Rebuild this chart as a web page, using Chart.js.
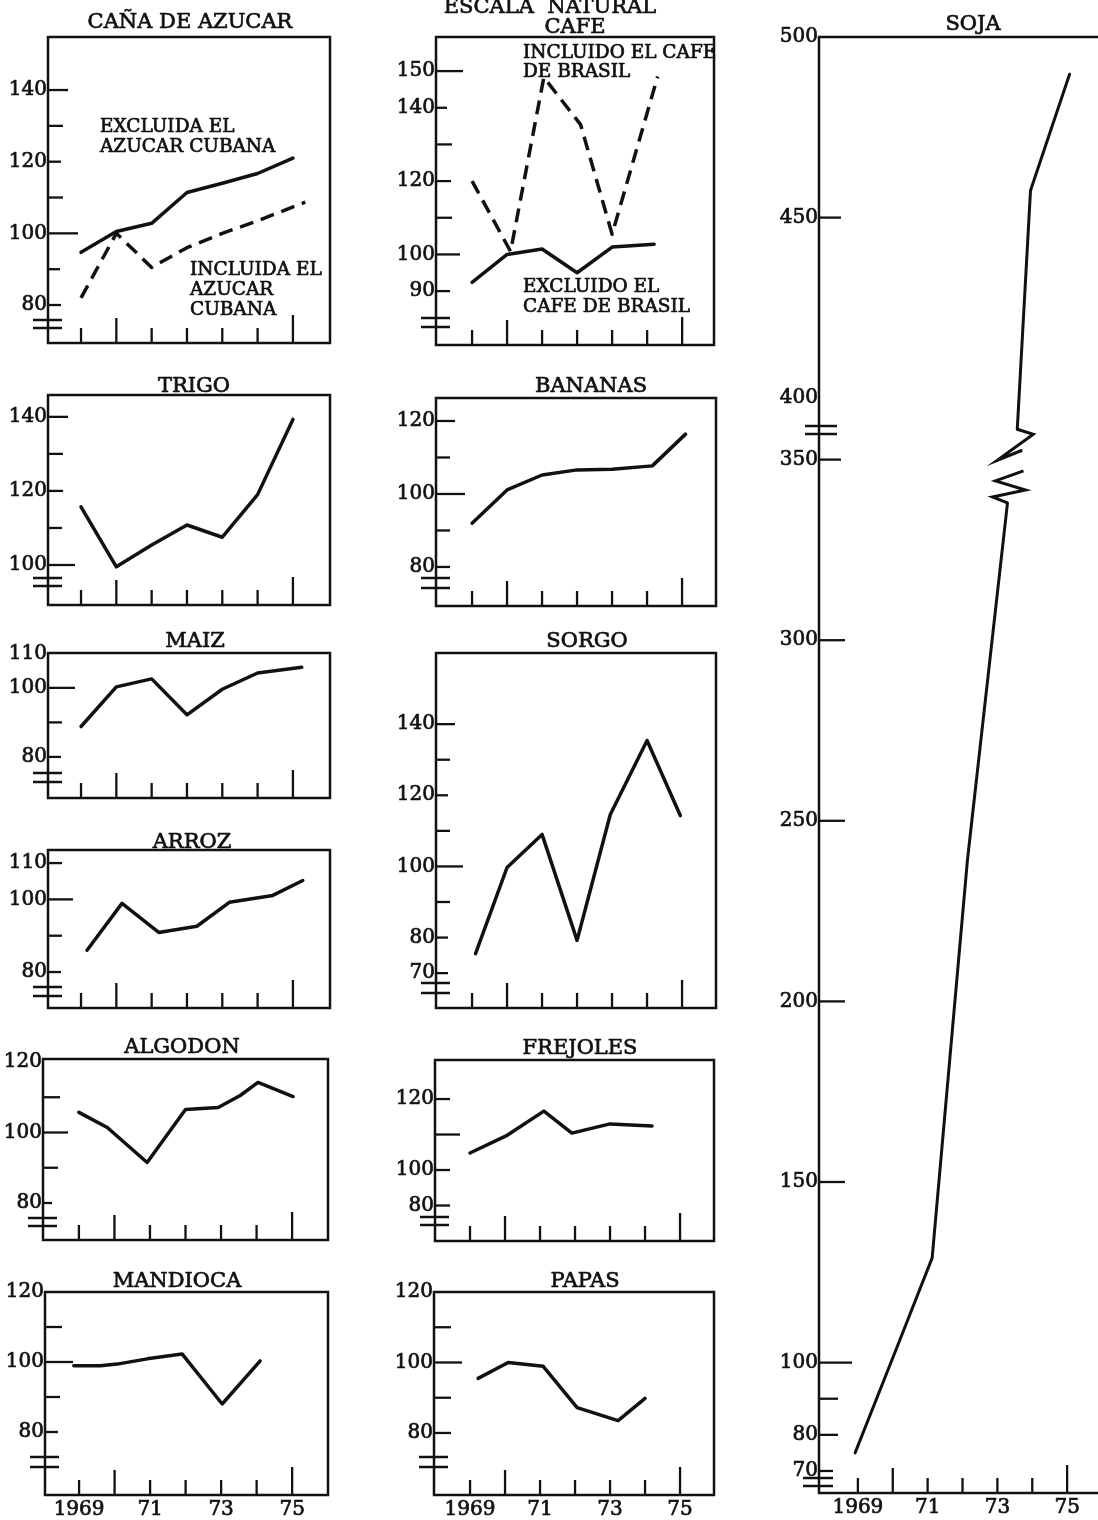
<!DOCTYPE html>
<html>
<head>
<meta charset="utf-8">
<script src="https://cdn.jsdelivr.net/npm/chart.js@4.4.1/dist/chart.umd.min.js"></script>
<style>
html,body{margin:0;padding:0;background:#fff;width:1098px;height:1520px;overflow:hidden;}
#wrap{position:relative;width:1098px;height:1520px;overflow:hidden;background:#fff;}
canvas{position:absolute;}
</style>
</head>
<body>
<div id="wrap"></div>
<script>
// ================= DATA =================
const tickYears = [1969, 1970, 1971, 1972, 1973, 1974, 1975];
const xTickLabels = ['1969', '', '71', '', '73', '', '75'];

// CAÑA DE AZUCAR
const canaExclYears = [1969, 1970, 1971, 1972, 1973, 1974, 1975];
const canaExclValues = [94.7, 100.5, 102.8, 111.4, 114, 116.7, 121];
const canaInclYears = [1969, 1970, 1971, 1972, 1973, 1974, 1975.35];
const canaInclValues = [82, 100, 90.5, 96, 100, 103.5, 108.7];
const canaYTicks = [140, 130, 120, 110, 100, 90, 80];
const canaYLabels = ['140', '', '120', '', '100', '', '80'];

// CAFE
const cafeExclYears = [1969, 1970, 1971, 1972, 1973, 1974.2];
const cafeExclValues = [92.4, 100, 101.5, 95, 102, 102.8];
const cafeInclYears = [1969, 1970.1, 1971.05, 1972.1, 1973, 1974.3];
const cafeInclValues = [120, 100.8, 148.3, 135.4, 105.5, 148.5];
const cafeYTicks = [150, 140, 130, 120, 110, 100, 90];
const cafeYLabels = ['150', '140', '', '120', '', '100', '90'];

// SOJA (values above the axis break are drawn shifted down by the break gap)
const sojaLowerYears = [1968.92, 1970.07, 1971.13, 1972.14, 1973.29];
const sojaLowerValues = [75, 103, 129, 239, 338];
const sojaUpperYears = [1973.57, 1973.95, 1975.07];
const sojaUpperValues = [391.4, 457.5, 489.7];
const sojaBreakGap = 33;
const sojaYTicks = [500, 450, 400, 350, 300, 250, 200, 150, 100, 90, 80, 70];
const sojaYLabels = ['500', '450', '400', '350', '300', '250', '200', '150', '100', '', '80', '70'];

// TRIGO
const trigoYears = [1969, 1970, 1971, 1972, 1973, 1974, 1975];
const trigoValues = [115.7, 99.5, 105.4, 110.8, 107.5, 119, 139.3];
const trigoYTicks = [140, 130, 120, 110, 100];
const trigoYLabels = ['140', '', '120', '', '100'];

// BANANAS
const bananasYears = [1969, 1970, 1971, 1972, 1973, 1974.15, 1975.1];
const bananasValues = [92, 101.1, 105.2, 106.6, 106.8, 107.7, 116.4];
const bananasYTicks = [120, 110, 100, 90, 80];
const bananasYLabels = ['120', '', '100', '', '80'];

// MAIZ
const maizYears = [1969, 1970, 1971, 1972, 1973, 1974, 1975.25];
const maizValues = [88.8, 100.3, 102.6, 92.2, 99.6, 104.3, 106];
const maizYTicks = [110, 100, 90, 80];
const maizYLabels = ['110', '100', '', '80'];

// SORGO
const sorgoYears = [1969.1, 1970, 1971, 1972, 1972.95, 1974, 1974.95];
const sorgoValues = [75.5, 99.7, 109, 79.2, 114.6, 135.4, 114.3];
const sorgoYTicks = [140, 130, 120, 110, 100, 90, 80, 70];
const sorgoYLabels = ['140', '', '120', '', '100', '', '80', '70'];

// ARROZ
const arrozYears = [1969.17, 1970.16, 1971.2, 1972.28, 1973.2, 1974.43, 1975.28];
const arrozValues = [86, 98.9, 90.9, 92.6, 99.2, 101.1, 105.2];
const arrozYTicks = [110, 100, 90, 80];
const arrozYLabels = ['110', '100', '', '80'];

// ALGODON
const algodonYears = [1969, 1969.8, 1970.92, 1972, 1972.92, 1973.54, 1974.04, 1975.03];
const algodonValues = [105.7, 101.4, 91.5, 106.5, 107.1, 110.5, 114.2, 110.2];
const algodonYTicks = [120, 110, 100, 90, 80];
const algodonYLabels = ['120', '', '100', '', '80'];

// FREJOLES
const frejolesYears = [1969, 1970.03, 1971.11, 1971.91, 1973, 1974.2];
const frejolesValues = [104.8, 109.6, 116.6, 110.4, 113, 112.4];
const frejolesYTicks = [120, 110, 100, 90];
const frejolesYLabels = ['120', '', '100', '80'];

// MANDIOCA
const mandiocaYears = [1968.85, 1969.6, 1970.07, 1970.92, 1971.9, 1973.03, 1974.1];
const mandiocaValues = [98.9, 98.9, 99.4, 100.9, 102.3, 88, 100.3];
const mandiocaYTicks = [120, 110, 100, 90, 80];
const mandiocaYLabels = ['120', '', '100', '', '80'];

// PAPAS
const papasYears = [1969.23, 1970.09, 1971.09, 1972.06, 1973.23, 1974];
const papasValues = [95.5, 100, 98.9, 87.2, 83.5, 89.8];
const papasYTicks = [120, 110, 100, 90, 80];
const papasYLabels = ['120', '', '100', '', '80'];

// ================= STYLE / LAYOUT =================
const FONT = "'DejaVu Serif', 'Liberation Serif', serif";
const INK = '#111';
const TEXT_STROKE = 0.7;
const ML = 70, MT = 45, MR = 10, MB = 30;
const xTickLen = [15, 25, 15, 15, 15, 15, 28];
const wrap = document.getElementById('wrap');

function sojaPlot(v) { return v >= 375 ? v - sojaBreakGap : v; }

const panels = [
  {
    box: {l: 48, t: 37, r: 330, b: 343}, x: [1968.065, 1976.05], y: [69.4, 154.8],
    yTicks: canaYTicks, yLabels: canaYLabels, yTickLen: [20, 15, 13, 15, 30, 12, 13],
    series: [
      {years: canaExclYears, values: canaExclValues},
      {years: canaInclYears, values: canaInclValues, dashed: true}
    ],
    breaks: [[320, -15, 14], [328, -15, 14]],
    texts: [
      {t: 'CAÑA DE AZUCAR', x: 190, y: 28, size: 21, align: 'center'},
      {t: 'EXCLUIDA EL', x: 100, y: 132, size: 18.5},
      {t: 'AZUCAR CUBANA', x: 100, y: 152, size: 18.5},
      {t: 'INCLUIDA EL', x: 190, y: 275, size: 18.5},
      {t: 'AZUCAR', x: 190, y: 295, size: 18.5},
      {t: 'CUBANA', x: 190, y: 315, size: 18.5}
    ]
  },
  {
    box: {l: 436, t: 37, r: 714, b: 345}, x: [1967.97, 1975.91], y: [75.3, 159.3],
    yTicks: cafeYTicks, yLabels: cafeYLabels, yTickLen: [27, 11, 16, 15, 16, 24, 14],
    series: [
      {years: cafeExclYears, values: cafeExclValues},
      {years: cafeInclYears, values: cafeInclValues, dashed: true}
    ],
    breaks: [[318, -15, 14], [327, -15, 14]],
    texts: [
      {t: 'ESCALA  NATURAL', x: 550, y: 13, size: 21, align: 'center'},
      {t: 'CAFE', x: 575, y: 33, size: 21, align: 'center'},
      {t: 'INCLUIDO EL CAFE', x: 523, y: 58, size: 18.5},
      {t: 'DE BRASIL', x: 523, y: 77, size: 18.5},
      {t: 'EXCLUIDO EL', x: 523, y: 292, size: 18.5},
      {t: 'CAFE DE BRASIL', x: 523, y: 312, size: 18.5}
    ]
  },
  {
    box: {l: 819, t: 37, r: 1102, b: 1493}, x: [1967.885, 1976.0], y: [63.9, 467],
    yTicks: sojaYTicks.map(sojaPlot), yLabels: sojaYLabels,
    yTickLen: [0, 22, 0, 22, 26, 26, 26, 26, 33, 19, 19, 14],
    series: [
      {years: sojaLowerYears, values: sojaLowerValues.map(sojaPlot), width: 3},
      {years: sojaUpperYears, values: sojaUpperValues.map(sojaPlot), width: 3}
    ],
    breaks: [[426, -14, 18], [434, -14, 18], [1478, -16, 14], [1486, -16, 14]],
    xLabels: true,
    texts: [{t: 'SOJA', x: 973, y: 30, size: 21, align: 'center'}],
    extra(ctx, xs, ys, poly) {
      const e1x = xs.getPixelForValue(sojaLowerYears[sojaLowerYears.length - 1]);
      const e1y = ys.getPixelForValue(sojaPlot(sojaLowerValues[sojaLowerValues.length - 1]));
      const e2x = xs.getPixelForValue(sojaUpperYears[0]);
      const e2y = ys.getPixelForValue(sojaPlot(sojaUpperValues[0]));
      poly([[e1x, e1y], [e1x - 15, e1y - 6], [e1x + 18, e1y - 13], [e1x - 12, e1y - 22], [e1x + 16, e1y - 32]]);
      poly([[e2x, e2y], [e2x + 16, e2y + 5], [e2x - 20, e2y + 31], [e2x + 5, e2y + 21]]);
    }
  },
  {
    box: {l: 48, t: 395, r: 330, b: 605}, x: [1968.065, 1976.05], y: [89.2, 145.9],
    yTicks: trigoYTicks, yLabels: trigoYLabels, yTickLen: [20, 15, 15, 14, 27],
    series: [{years: trigoYears, values: trigoValues}],
    breaks: [[578, -15, 14], [586, -15, 14]],
    texts: [{t: 'TRIGO', x: 194, y: 392, size: 21, align: 'center'}]
  },
  {
    box: {l: 436, t: 398, r: 716, b: 606}, x: [1967.97, 1975.97], y: [69.3, 126.3],
    yTicks: bananasYTicks, yLabels: bananasYLabels, yTickLen: [19, 14, 29, 14, 14],
    series: [{years: bananasYears, values: bananasValues}],
    breaks: [[578, -15, 14], [588, -15, 14]],
    texts: [{t: 'BANANAS', x: 591, y: 392, size: 21, align: 'center'}]
  },
  {
    box: {l: 48, t: 653, r: 330, b: 798}, x: [1968.065, 1976.05], y: [68.1, 110.1],
    yTicks: maizYTicks, yLabels: maizYLabels, yTickLen: [0, 27, 14, 13],
    series: [{years: maizYears, values: maizValues}],
    breaks: [[773, -15, 14], [782, -15, 14]],
    texts: [{t: 'MAIZ', x: 195, y: 647, size: 21, align: 'center'}]
  },
  {
    box: {l: 436, t: 653, r: 716, b: 1008}, x: [1967.97, 1975.97], y: [60.2, 160],
    yTicks: sorgoYTicks, yLabels: sorgoYLabels, yTickLen: [19, 14, 12, 14, 27, 14, 12, 12],
    series: [{years: sorgoYears, values: sorgoValues}],
    breaks: [[983, -15, 14], [993, -15, 14]],
    texts: [{t: 'SORGO', x: 587, y: 647, size: 21, align: 'center'}]
  },
  {
    box: {l: 48, t: 850, r: 330, b: 1008}, x: [1968.065, 1976.05], y: [70.1, 113.6],
    yTicks: arrozYTicks, yLabels: arrozYLabels, yTickLen: [14, 25, 14, 13],
    series: [{years: arrozYears, values: arrozValues}],
    breaks: [[987, -15, 14], [996, -15, 14]],
    texts: [{t: 'ARROZ', x: 192, y: 848, size: 21, align: 'center'}]
  },
  {
    box: {l: 43, t: 1059, r: 328, b: 1240}, x: [1967.99, 1976.01], y: [69.5, 120.85],
    yTicks: algodonYTicks, yLabels: algodonYLabels, yTickLen: [0, 17, 25, 15, 9],
    series: [{years: algodonYears, values: algodonValues}],
    breaks: [[1218, -15, 14], [1226, -15, 14]],
    texts: [{t: 'ALGODON', x: 182, y: 1053, size: 21, align: 'center'}]
  },
  {
    box: {l: 435, t: 1060, r: 714, b: 1241}, x: [1968, 1975.97], y: [80, 131],
    yTicks: frejolesYTicks, yLabels: frejolesYLabels, yTickLen: [15, 25, 15, 15],
    series: [{years: frejolesYears, values: frejolesValues}],
    breaks: [[1217, -15, 14], [1225, -15, 14]],
    texts: [{t: 'FREJOLES', x: 580, y: 1054, size: 21, align: 'center'}]
  },
  {
    box: {l: 45, t: 1292, r: 328, b: 1495}, x: [1968.04, 1976.01], y: [62, 120],
    yTicks: mandiocaYTicks, yLabels: mandiocaYLabels, yTickLen: [0, 17, 28, 15, 13],
    series: [{years: mandiocaYears, values: mandiocaValues}],
    breaks: [[1457, -15, 14], [1467, -15, 14]],
    xLabels: true,
    texts: [{t: 'MANDIOCA', x: 177, y: 1287, size: 21, align: 'center'}]
  },
  {
    box: {l: 434, t: 1292, r: 714, b: 1495}, x: [1967.97, 1975.97], y: [62.4, 120],
    yTicks: papasYTicks, yLabels: papasYLabels, yTickLen: [0, 17, 28, 17, 17],
    series: [{years: papasYears, values: papasValues}],
    breaks: [[1457, -15, 14], [1467, -15, 14]],
    xLabels: true,
    texts: [{t: 'PAPAS', x: 585, y: 1287, size: 21, align: 'center'}]
  }
];

function makePanel(p) {
  const cw = p.box.r - p.box.l + ML + MR;
  const ch = p.box.b - p.box.t + MT + MB;
  const ox = p.box.l - ML, oy = p.box.t - MT;
  const canvas = document.createElement('canvas');
  canvas.width = cw; canvas.height = ch;
  canvas.style.left = ox + 'px'; canvas.style.top = oy + 'px';
  canvas.style.width = cw + 'px'; canvas.style.height = ch + 'px';
  wrap.appendChild(canvas);

  const labelMap = {};
  p.yTicks.forEach((v, i) => { labelMap[v] = p.yLabels[i]; });

  const deco = {
    id: 'deco',
    afterDraw(chart) {
      const ctx = chart.ctx, a = chart.chartArea;
      const xs = chart.scales.x, ys = chart.scales.y;
      const line = (x1, y1, x2, y2) => { ctx.beginPath(); ctx.moveTo(x1, y1); ctx.lineTo(x2, y2); ctx.stroke(); };
      const poly = (pts) => {
        ctx.beginPath(); ctx.moveTo(pts[0][0], pts[0][1]);
        for (let i = 1; i < pts.length; i++) ctx.lineTo(pts[i][0], pts[i][1]);
        ctx.stroke();
      };
      ctx.save();
      ctx.strokeStyle = INK; ctx.fillStyle = INK; ctx.lineCap = 'butt'; ctx.lineJoin = 'miter';
      ctx.lineWidth = 2.5;
      ctx.strokeRect(a.left, a.top, a.right - a.left, a.bottom - a.top);
      ctx.lineWidth = 2.3;
      p.yTicks.forEach((v, i) => {
        const len = p.yTickLen[i];
        if (!len) return;
        const y = ys.getPixelForValue(v);
        line(a.left, y, a.left + len, y);
      });
      tickYears.forEach((yr, i) => {
        const x = xs.getPixelForValue(yr);
        line(x, a.bottom, x, a.bottom - xTickLen[i]);
      });
      ctx.lineWidth = 2.5;
      p.breaks.forEach(([py, d1, d2]) => {
        const y = py - oy;
        line(a.left + d1, y, a.left + d2, y);
      });
      if (p.extra) { ctx.lineWidth = 3; p.extra(ctx, xs, ys, poly); }
      ctx.textBaseline = 'alphabetic';
      ctx.lineWidth = TEXT_STROKE;
      ctx.lineJoin = 'round';
      p.texts.forEach(tx => {
        ctx.font = tx.size + 'px ' + FONT;
        ctx.textAlign = tx.align || 'left';
        ctx.fillText(tx.t, tx.x - ox, tx.y - oy);
        ctx.strokeText(tx.t, tx.x - ox, tx.y - oy);
      });
      ctx.restore();
    }
  };

  new Chart(canvas, {
    type: 'line',
    data: {
      datasets: p.series.map(s => ({
        data: s.years.map((x, i) => ({x: x, y: s.values[i]})),
        borderColor: INK,
        borderWidth: s.width || 3.5,
        borderDash: s.dashed ? [14, 8] : [],
        borderCapStyle: s.dashed ? 'butt' : 'round',
        borderJoinStyle: 'round',
        pointRadius: 0,
        tension: 0,
        fill: false
      }))
    },
    options: {
      responsive: false,
      animation: false,
      devicePixelRatio: 1,
      layout: {padding: {left: 0, top: MT, right: MR, bottom: 0}},
      plugins: {legend: {display: false}, tooltip: {enabled: false}, title: {display: false}},
      scales: {
        x: {
          type: 'linear', min: p.x[0], max: p.x[1],
          grid: {display: false, drawTicks: false},
          border: {display: false},
          afterBuildTicks: s => { s.ticks = tickYears.map(v => ({value: v})); },
          afterFit: s => { s.height = MB; },
          ticks: {
            display: !!p.xLabels, autoSkip: false, maxRotation: 0, minRotation: 0,
            padding: 3, color: INK, font: {family: FONT, size: 20},
            textStrokeColor: INK, textStrokeWidth: TEXT_STROKE,
            callback: (v, i) => xTickLabels[i]
          }
        },
        y: {
          type: 'linear', min: p.y[0], max: p.y[1],
          grid: {display: false, drawTicks: false},
          border: {display: false},
          afterBuildTicks: s => { s.ticks = p.yTicks.map(v => ({value: v})); },
          afterFit: s => { s.width = ML; },
          ticks: {
            autoSkip: false, padding: 1, color: INK, font: {family: FONT, size: 20},
            textStrokeColor: INK, textStrokeWidth: TEXT_STROKE,
            callback: v => (labelMap[v] !== undefined ? labelMap[v] : '')
          }
        }
      }
    },
    plugins: [deco]
  });
}

panels.forEach(makePanel);
</script>
</body>
</html>
